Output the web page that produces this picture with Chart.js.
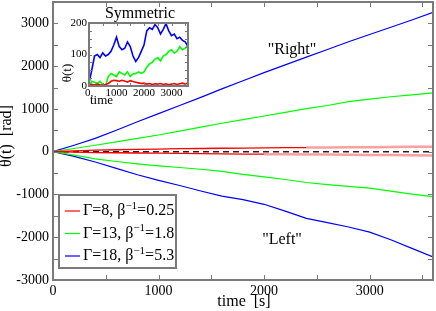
<!DOCTYPE html>
<html>
<head>
<meta charset="utf-8">
<script src="https://cdn.jsdelivr.net/npm/chart.js@4.4.1/dist/chart.umd.min.js"></script>
<style>
body{margin:0;background:#fff}
#wrap{position:relative;width:436px;height:311px}
#main{position:absolute;left:0;top:0}
#inset{position:absolute;left:60px;top:0}
</style>
</head>
<body>
<div id="wrap">
<canvas id="main" width="436" height="311"></canvas>
<canvas id="inset" width="135" height="108"></canvas>
</div>
<script>
// main panel, time in s
var times = [0,200,400,600,800,1000,1200,1400,1600,1800,2000,2200,2400,2600,2800,3000,3200,3400,3600];
var blueRight = [0,150,310,500,700,890,1080,1270,1470,1660,1850,2030,2210,2390,2570,2740,2910,3080,3260];
var greenRight = [0,75,150,230,310,390,480,575,665,750,835,920,1005,1080,1170,1230,1285,1330,1375];
var redRight = [0,20,35,45,55,62,70,75,80,85,90,93,96,100,103,106,110,113,116];
var blueLeft = [0,-110,-240,-390,-540,-670,-790,-920,-1040,-1120,-1230,-1390,-1560,-1660,-1760,-1880,-2060,-2260,-2460];
var greenLeft = [0,-80,-170,-230,-285,-330,-370,-410,-460,-530,-590,-650,-720,-770,-810,-850,-920,-990,-1050];
var redLeft = [0,-10,-20,-25,-30,-35,-40,-45,-50,-55,-58,-62,-65,-68,-72,-76,-80,-85,-90];
var xTicks = [0,1000,2000,3000];
var yTicks = [-3000,-2000,-1000,0,1000,2000,3000];

// inset "Symmetric"
var insetTimes = [0,100,200,300,400,500,600,700,800,900,1000,1100,1200,1300,1400,1500,1600,1700,1800,1900,2000,2100,2200,2300,2400,2500,2600,2700,2800,2900,3000,3100,3200,3300,3400,3500,3600];
var insetBlue = [10,50,95,100,90,105,95,100,110,130,155,125,115,120,140,125,95,78,90,110,130,175,185,180,195,185,165,180,198,175,160,165,150,155,145,140,125];
var insetGreen = [0,15,12,8,15,5,0,30,40,35,30,45,40,35,45,30,38,40,45,40,45,60,70,75,85,90,80,95,100,110,115,105,110,125,115,120,130];
var insetRed = [2,5,3,6,4,3,5,8,15,18,17,15,18,16,12,17,14,12,10,8,9,6,8,5,7,6,8,5,7,4,6,8,5,7,9,6,10];
var insetXTicks = [0,1000,2000,3000];
var insetYTicks = [0,50,100,150,200];

var legendItems = [
  {color:'rgb(255,0,0)', parts:['Γ=8, β','−1','=0.25']},
  {color:'rgb(0,255,0)', parts:['Γ=13, β','−1','=1.8']},
  {color:'rgb(0,0,255)', parts:['Γ=18, β','−1','=5.3']}
];

var FONT = 'Liberation Serif';
var RED='rgb(255,0,0)', PINK='rgba(255,120,120,0.7)', GREEN='rgb(0,255,0)', BLUE='rgb(0,0,255)';

function pts(xs, ys){ return xs.map(function(t,i){ return {x:t, y:ys[i]}; }); }

function frame(minX, minY, len, fs){
  return {
    id:'frame',
    beforeDatasetsDraw:function(c){
      var a=c.chartArea, ctx=c.ctx;
      if(fs){ ctx.save(); ctx.fillStyle='#fff'; ctx.fillRect(a.left,a.top,a.width,a.height); ctx.restore(); }
    },
    afterDatasetsDraw:function(c){
      var a=c.chartArea, ctx=c.ctx, x=c.scales.x, y=c.scales.y;
      ctx.save();
      ctx.strokeStyle='#7a7a7a'; ctx.lineWidth=1;
      ctx.beginPath();
      for(var v=x.min+minX; v<x.max; v+=minX){
        var px=Math.round(x.getPixelForValue(v))+0.5;
        ctx.moveTo(px,a.bottom); ctx.lineTo(px,a.bottom-len);
        ctx.moveTo(px,a.top); ctx.lineTo(px,a.top+len);
      }
      for(var w=y.min+minY; w<y.max; w+=minY){
        var py=Math.round(y.getPixelForValue(w))+0.5;
        ctx.moveTo(a.left,py); ctx.lineTo(a.left+len,py);
        ctx.moveTo(a.right,py); ctx.lineTo(a.right-len,py);
      }
      ctx.stroke();
      ctx.lineWidth=2;
      ctx.strokeRect(a.left,a.top,a.width,a.height);
      ctx.restore();
    }
  };
}

function setTicks(list){ return function(s){ s.ticks = list.map(function(v){ return {value:v}; }); }; }
function fitTo(prop, size){
  return function(s){ s[prop]=size; s.paddingTop=0; s.paddingBottom=0; s.paddingLeft=0; s.paddingRight=0; };
}

var texts = {
  id:'texts',
  afterDraw:function(c){
    var ctx=c.ctx;
    ctx.save();
    ctx.fillStyle='#000';
    ctx.font='16px '+FONT;
    ctx.textAlign='center'; ctx.textBaseline='middle';
    ctx.fillText('"Right"', 292, 50);
    ctx.fillText('"Left"', 282, 240);
    ctx.fillText('time  [s]', 244, 302);
    ctx.save();
    ctx.translate(7, 136); ctx.rotate(-Math.PI/2);
    ctx.fillText('θ(t)  [rad]', 0, 0);
    ctx.restore();

    // legend box
    ctx.fillStyle='#fff';
    ctx.fillRect(59,195,117,73);
    ctx.strokeStyle='#7a7a7a'; ctx.lineWidth=2;
    ctx.strokeRect(59,195,117,73);
    legendItems.forEach(function(it,i){
      var yy = 211 + i*22.5;
      ctx.strokeStyle=it.color; ctx.lineWidth=1.2;
      ctx.beginPath(); ctx.moveTo(65,yy); ctx.lineTo(80,yy); ctx.stroke();
      ctx.fillStyle='#000'; ctx.textAlign='left'; ctx.textBaseline='middle';
      var xx=83;
      ctx.font='16px '+FONT;
      ctx.fillText(it.parts[0], xx, yy); xx+=ctx.measureText(it.parts[0]).width;
      ctx.font='11px '+FONT;
      ctx.fillText(it.parts[1], xx, yy-5); xx+=ctx.measureText(it.parts[1]).width;
      ctx.font='16px '+FONT;
      ctx.fillText(it.parts[2], xx, yy);
    });
    ctx.restore();
  }
};

function redSegment(cut){
  return {
    borderColor:function(s){ return s.p0.parsed.x >= cut ? PINK : RED; },
    borderWidth:function(s){ return s.p0.parsed.x >= cut ? 2.5 : 1.3; }
  };
}

new Chart(document.getElementById('main'), {
  type:'line',
  data:{
    datasets:[
      {data:pts(times,redRight), borderColor:RED, borderWidth:1.3, segment:redSegment(2400)},
      {data:pts(times,redLeft), borderColor:RED, borderWidth:1.3, segment:redSegment(2000)},
      {data:pts(times,greenRight), borderColor:GREEN, borderWidth:1.2},
      {data:pts(times,greenLeft), borderColor:GREEN, borderWidth:1.2},
      {data:pts(times,blueRight), borderColor:BLUE, borderWidth:1.2},
      {data:pts(times,blueLeft), borderColor:BLUE, borderWidth:1.2},
      {data:pts(times,times.map(function(){return 0;})), borderColor:'#222', borderWidth:1.6, borderDash:[6,4]}
    ]
  },
  options:{
    responsive:false, animation:false, devicePixelRatio:1,
    layout:{padding:{top:2,right:3,left:0,bottom:0}},
    elements:{point:{radius:0}, line:{tension:0}},
    plugins:{legend:{display:false}, tooltip:{enabled:false}},
    scales:{
      x:{type:'linear', min:0, max:3600,
        afterBuildTicks:setTicks(xTicks),
        afterFit:fitTo('height',31),
        grid:{display:false, drawTicks:false}, border:{display:false},
        ticks:{color:'#000', padding:3, maxRotation:0, font:{family:FONT,size:14}, callback:function(v){return String(v);}}},
      y:{type:'linear', min:-3000, max:3500,
        afterBuildTicks:setTicks(yTicks),
        afterFit:fitTo('width',53),
        grid:{display:false, drawTicks:false}, border:{display:false},
        ticks:{color:'#000', padding:4, font:{family:FONT,size:14}, callback:function(v){return String(v);}}}
    }
  },
  plugins:[frame(500,500,5,false), texts]
});

var insetTexts = {
  id:'insetTexts',
  afterDraw:function(c){
    var ctx=c.ctx;
    ctx.save();
    ctx.fillStyle='#000'; ctx.textBaseline='middle';
    ctx.font='16px '+FONT; ctx.textAlign='center';
    ctx.fillText('Symmetric', 80, 14);
    ctx.font='13px '+FONT; ctx.textAlign='left';
    ctx.fillText('time', 30, 101);
    ctx.translate(8, 73); ctx.rotate(-Math.PI/2);
    ctx.textAlign='center';
    ctx.fillText('θ(t)', 0, 0);
    ctx.restore();
  }
};

new Chart(document.getElementById('inset'), {
  type:'line',
  data:{
    datasets:[
      {data:pts(insetTimes,insetRed), borderColor:RED, borderWidth:1.6},
      {data:pts(insetTimes,insetGreen), borderColor:GREEN, borderWidth:1.6},
      {data:pts(insetTimes,insetBlue), borderColor:BLUE, borderWidth:1.6}
    ]
  },
  options:{
    responsive:false, animation:false, devicePixelRatio:1,
    layout:{padding:{top:23,right:7,left:0,bottom:0}},
    elements:{point:{radius:0}, line:{tension:0}},
    plugins:{legend:{display:false}, tooltip:{enabled:false}},
    scales:{
      x:{type:'linear', min:0, max:3600,
        afterBuildTicks:setTicks(insetXTicks),
        afterFit:fitTo('height',22),
        grid:{display:false, drawTicks:false}, border:{display:false},
        ticks:{color:'#000', padding:1, maxRotation:0, autoSkip:false, font:{family:FONT,size:11}, callback:function(v){return v===0?'0,':String(v);}}},
      y:{type:'linear', min:0, max:200,
        afterBuildTicks:setTicks(insetYTicks),
        afterFit:fitTo('width',29),
        grid:{display:false, drawTicks:false}, border:{display:false},
        ticks:{color:'#000', padding:2, font:{family:FONT,size:11}, callback:function(v){return String(v);}}}
    }
  },
  plugins:[frame(500,25,3,true), insetTexts]
});
</script>
</body>
</html>
